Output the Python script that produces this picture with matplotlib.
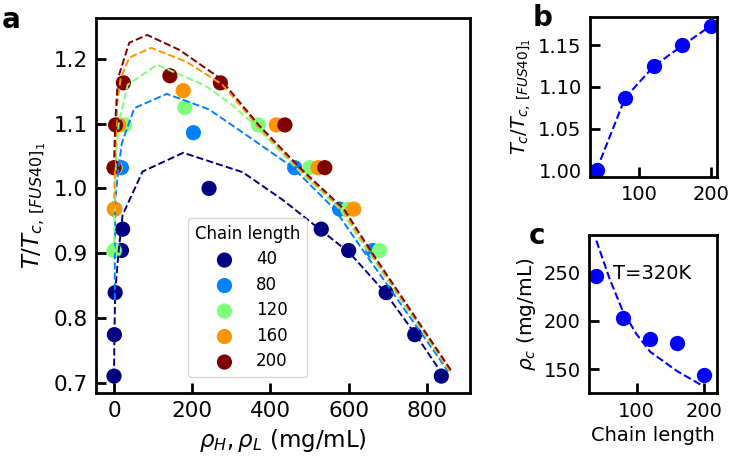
import matplotlib
matplotlib.use("Agg")
import matplotlib.pyplot as plt
import numpy as np

# === Data ===
chain_lengths = [40, 80, 120, 160, 200]

# coexistence points (rho in mg/mL, T/Tc[FUS40]_1)
rho_40 = [0, 837, 1, 769, 3, 696, 19, 600, 22, 530, 243]
t_40 = [0.710, 0.710, 0.774, 0.774, 0.839, 0.839, 0.904, 0.904, 0.937, 0.937, 1.000]
rho_80 = [2, 662, 2, 577, 19, 462, 203]
t_80 = [0.904, 0.904, 0.968, 0.968, 1.032, 1.032, 1.086]
rho_120 = [0, 679, 1, 598, 3, 501, 27, 369, 181]
t_120 = [0.904, 0.904, 0.968, 0.968, 1.032, 1.032, 1.098, 1.098, 1.125]
rho_160 = [1, 613, 1, 522, 12, 415, 177]
t_160 = [0.968, 0.968, 1.032, 1.032, 1.098, 1.098, 1.151]
rho_200 = [0, 539, 4, 437, 24, 272, 143]
t_200 = [1.032, 1.032, 1.098, 1.098, 1.163, 1.163, 1.174]

# fitted binodals (dashed)
fit_rho_40 = [0, 1, 3, 12, 22, 73, 177, 329, 432, 530, 603, 692, 769, 841]
fit_t_40 = [0.710, 0.774, 0.839, 0.904, 0.959, 1.026, 1.055, 1.025, 0.982, 0.935, 0.900, 0.840, 0.776, 0.712]
fit_rho_80 = [2, 2, 3, 11, 20, 52, 135, 243, 337, 456, 564, 637, 855]
fit_t_80 = [0.827, 0.900, 0.982, 1.028, 1.070, 1.124, 1.146, 1.122, 1.083, 1.033, 0.968, 0.904, 0.717]
fit_rho_120 = [0, 2, 5, 12, 35, 110, 235, 300, 360, 465, 578, 648, 860]
fit_t_120 = [0.900, 0.970, 1.050, 1.100, 1.160, 1.191, 1.158, 1.130, 1.098, 1.032, 0.968, 0.904, 0.716]
fit_rho_160 = [0, 3, 8, 17, 39, 95, 184, 278, 365, 470, 583, 652, 862]
fit_t_160 = [0.968, 1.050, 1.130, 1.170, 1.202, 1.217, 1.196, 1.160, 1.098, 1.032, 0.968, 0.904, 0.716]
fit_rho_200 = [0, 3, 10, 39, 85, 167, 269, 370, 475, 588, 656, 865]
fit_t_200 = [1.032, 1.100, 1.170, 1.225, 1.237, 1.214, 1.171, 1.098, 1.032, 0.968, 0.904, 0.716]

# panel b
tc_ratio = [1.000, 1.087, 1.125, 1.150, 1.174]

# panel c
rho_c = [246, 203, 181, 177, 144]
fit_len_c = [40, 60, 80, 100, 120, 160, 200]
fit_rho_c = [283, 243, 209, 186, 168, 148, 132]

plt.rcParams["axes.linewidth"] = 2

fig = plt.figure(figsize=(7.33, 4.65), dpi=100)
ax_a = fig.add_axes([0.131, 0.155, 0.510, 0.806])
ax_b = fig.add_axes([0.805, 0.620, 0.173, 0.343])
ax_c = fig.add_axes([0.804, 0.154, 0.174, 0.341])

colors = plt.cm.jet(np.linspace(0, 1, 5))

# === Panel a ===
pts = [(rho_40, t_40), (rho_80, t_80), (rho_120, t_120), (rho_160, t_160), (rho_200, t_200)]
fits = [(fit_rho_40, fit_t_40), (fit_rho_80, fit_t_80), (fit_rho_120, fit_t_120),
        (fit_rho_160, fit_t_160), (fit_rho_200, fit_t_200)]

for (x, y), n, c in zip(pts, chain_lengths, colors):
    ax_a.scatter(x, y, s=120, color=c, label=str(n), edgecolors="none")
for (x, y), c in zip(fits, colors):
    ax_a.plot(x, y, "--", color=c, lw=1.4)

ax_a.set_xlim(-46, 910)
ax_a.set_ylim(0.684, 1.263)
ax_a.set_xticks([0, 200, 400, 600, 800])
ax_a.set_yticks([0.7, 0.8, 0.9, 1.0, 1.1, 1.2])
ax_a.set_xlabel(r"$\rho_H, \rho_L$ (mg/mL)", fontsize=16.5)
ax_a.set_ylabel(r"$T/T_{c,\,[FUS40]_1}$", fontsize=16.5)
ax_a.tick_params(labelsize=15.5)
ax_a.legend(title="Chain length", loc="lower left", bbox_to_anchor=(0.225, 0.02),
            fontsize=12, title_fontsize=12, labelspacing=0.45, handletextpad=0.9)

# === Panel b ===
ax_b.plot(chain_lengths, tc_ratio, "o--", color="blue", ms=10, lw=1.5)
ax_b.set_xlim(31, 208)
ax_b.set_ylim(0.992, 1.184)
ax_b.set_xticks([100, 200])
ax_b.set_yticks([1.00, 1.05, 1.10, 1.15])
ax_b.set_yticklabels(["1.00", "1.05", "1.10", "1.15"])
ax_b.set_ylabel(r"$T_c/T_{c,\,[FUS40]_1}$", fontsize=14)
ax_b.tick_params(labelsize=14)

# === Panel c ===
ax_c.plot(chain_lengths, rho_c, "o", color="blue", ms=10)
ax_c.plot(fit_len_c, fit_rho_c, "--", color="blue", lw=1.5)
ax_c.set_xlim(29.6, 219)
ax_c.set_ylim(125, 289)
ax_c.set_xticks([100, 200])
ax_c.set_yticks([150, 200, 250])
ax_c.set_xlabel("Chain length", fontsize=14)
ax_c.set_ylabel(r"$\rho_c$ (mg/mL)", fontsize=14.5)
ax_c.tick_params(labelsize=14)
ax_c.text(65, 249, "T=320K", fontsize=14, va="center")

for ax in (ax_a, ax_b, ax_c):
    ax.tick_params(direction="in", length=7, width=2, pad=6)

fig.text(0.003, 0.94, "a", fontsize=20, fontweight="bold")
fig.text(0.727, 0.945, "b", fontsize=20, fontweight="bold")
fig.text(0.721, 0.475, "c", fontsize=20, fontweight="bold")

fig.savefig("out.png", dpi=100)
